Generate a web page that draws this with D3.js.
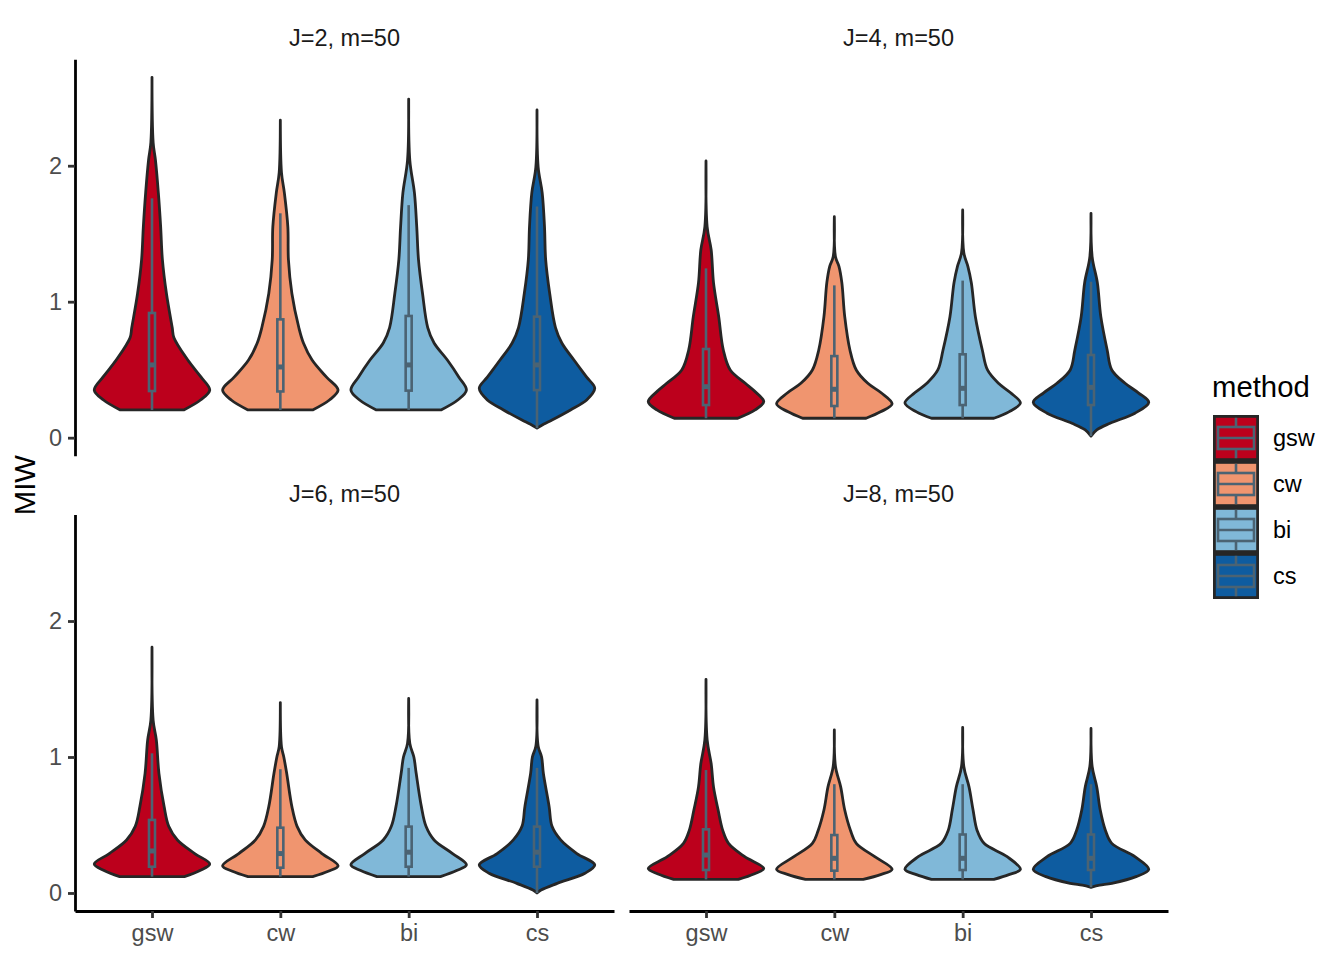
<!DOCTYPE html>
<html>
<head>
<meta charset="utf-8">
<script src="https://cdn.jsdelivr.net/npm/d3@7"></script>
<style>
  body { margin: 0; background: #fff; }
  text { font-family: "Liberation Sans", Arial, Helvetica, sans-serif; }
</style>
</head>
<body>
<script>

let methods = ["gsw", "cw", "bi", "cs"];
let methodColors = ["#BC001C", "#F0956F", "#80B8D8", "#0E5CA0"];
let panelLabels = ["J=2, m=50", "J=4, m=50", "J=6, m=50", "J=8, m=50"];
let yTicks = [0, 1, 2];

// violin outlines: [MIW value, relative half width]
let violinJ2 = [
  [[0.204,0.55],[0.277,0.84],[0.35,1.0],[0.445,0.85],[0.571,0.62],[0.735,0.38],[0.81,0.35],[1.06,0.25],[1.31,0.18],[1.55,0.15],[1.80,0.11],[2.04,0.06],[2.17,0.02],[2.65,0]],
  [[0.204,0.56],[0.277,0.85],[0.35,1.0],[0.445,0.80],[0.571,0.55],[0.696,0.40],[0.81,0.32],[1.06,0.20],[1.31,0.14],[1.55,0.13],[1.80,0.07],[1.95,0.02],[2.335,0]],
  [[0.204,0.56],[0.277,0.85],[0.35,1.0],[0.445,0.87],[0.571,0.67],[0.696,0.44],[0.81,0.33],[1.06,0.24],[1.31,0.17],[1.55,0.14],[1.80,0.10],[2.04,0.02],[2.49,0]],
  [[0.07,0],[0.10,0.12],[0.13,0.26],[0.204,0.58],[0.277,0.86],[0.363,1.0],[0.445,0.86],[0.571,0.64],[0.696,0.43],[0.81,0.32],[1.06,0.22],[1.31,0.15],[1.55,0.13],[1.80,0.09],[1.99,0.02],[2.41,0]]
];
let violinJ4 = [
  [[0.143,0.55],[0.204,0.85],[0.265,1.0],[0.35,0.82],[0.40,0.68],[0.498,0.42],[0.645,0.30],[0.89,0.22],[1.14,0.13],[1.38,0.09],[1.55,0.02],[2.035,0]],
  [[0.143,0.55],[0.19,0.80],[0.248,1.0],[0.33,0.81],[0.40,0.58],[0.498,0.38],[0.645,0.27],[0.89,0.18],[1.14,0.13],[1.26,0.08],[1.33,0.02],[1.625,0]],
  [[0.143,0.54],[0.19,0.80],[0.255,1.0],[0.33,0.83],[0.40,0.62],[0.498,0.43],[0.645,0.34],[0.89,0.22],[1.14,0.15],[1.26,0.09],[1.36,0.02],[1.675,0]],
  [[0.012,0],[0.057,0.10],[0.106,0.33],[0.18,0.76],[0.26,1.0],[0.33,0.82],[0.40,0.59],[0.498,0.36],[0.645,0.28],[0.89,0.17],[1.14,0.11],[1.33,0.02],[1.65,0]]
];
let violinJ6 = [
  [[0.12,0.56],[0.165,0.83],[0.213,1.0],[0.29,0.74],[0.39,0.44],[0.49,0.29],[0.635,0.21],[0.88,0.12],[1.125,0.075],[1.27,0.02],[1.807,0]],
  [[0.12,0.56],[0.16,0.83],[0.20,1.0],[0.29,0.72],[0.39,0.43],[0.49,0.29],[0.635,0.20],[0.88,0.11],[1.0,0.06],[1.076,0.02],[1.40,0]],
  [[0.12,0.55],[0.165,0.83],[0.207,1.0],[0.29,0.76],[0.39,0.44],[0.49,0.30],[0.635,0.22],[0.88,0.13],[1.0,0.09],[1.10,0.02],[1.43,0]],
  [[0.0,0],[0.022,0.07],[0.071,0.35],[0.145,0.83],[0.207,1.0],[0.29,0.69],[0.39,0.41],[0.49,0.26],[0.635,0.21],[0.88,0.11],[1.0,0.08],[1.08,0.02],[1.42,0]]
];
let violinJ8 = [
  [[0.10,0.56],[0.14,0.83],[0.18,1.0],[0.267,0.67],[0.365,0.39],[0.46,0.29],[0.61,0.21],[0.78,0.13],[0.95,0.09],[1.125,0.02],[1.571,0]],
  [[0.10,0.50],[0.135,0.80],[0.174,1.0],[0.267,0.70],[0.365,0.38],[0.46,0.28],[0.61,0.18],[0.78,0.11],[0.93,0.02],[1.20,0]],
  [[0.10,0.54],[0.135,0.80],[0.174,1.0],[0.267,0.77],[0.365,0.37],[0.46,0.25],[0.61,0.18],[0.78,0.11],[0.93,0.02],[1.218,0]],
  [[0.042,0],[0.057,0.15],[0.071,0.36],[0.12,0.78],[0.174,1.0],[0.267,0.76],[0.365,0.36],[0.46,0.25],[0.61,0.16],[0.78,0.10],[0.93,0.02],[1.21,0]]
];

// boxplot stats: [whisker low, q1, median, q3, whisker high]
let boxJ2 = [[0.204,0.343,0.535,0.917,1.76],[0.204,0.34,0.52,0.87,1.65],[0.204,0.346,0.535,0.895,1.71],[0.07,0.35,0.535,0.89,1.70]];
let boxJ4 = [[0.143,0.24,0.375,0.652,1.245],[0.143,0.233,0.356,0.60,1.12],[0.143,0.24,0.363,0.613,1.155],[0.012,0.24,0.37,0.608,1.147]];
let boxJ6 = [[0.12,0.193,0.309,0.537,1.027],[0.12,0.186,0.29,0.48,0.91],[0.12,0.193,0.30,0.488,0.92],[0.0,0.193,0.30,0.488,0.92]];
let boxJ8 = [[0.10,0.169,0.279,0.468,0.904],[0.10,0.164,0.255,0.426,0.80],[0.10,0.169,0.255,0.43,0.80],[0.042,0.169,0.255,0.43,0.80]];


let canvasW = 1344;
let canvasH = 960;

let outline = "#262626";
let boxCol = "#4B6373";
let lw = 2.8;

let colX = [[75, 614], [629, 1168]];
let rowY = [[455.7, 59.3], [911, 514.6]];

let panels = [
  { label: panelLabels[0], row: 0, col: 0, violins: violinJ2, boxes: boxJ2 },
  { label: panelLabels[1], row: 0, col: 1, violins: violinJ4, boxes: boxJ4 },
  { label: panelLabels[2], row: 1, col: 0, violins: violinJ6, boxes: boxJ6 },
  { label: panelLabels[3], row: 1, col: 1, violins: violinJ8, boxes: boxJ8 }
];

// shared y domain, 5% padding like ggplot
let allVals = [];
panels.forEach(p => p.violins.forEach(v => v.forEach(d => allVals.push(d[0]))));
let ext = d3.extent(allVals);
let pad = (ext[1] - ext[0]) * 0.05;
let yDomain = [ext[0] - pad, ext[1] + pad];

let svg = d3.select("body").append("svg")
  .attr("width", canvasW)
  .attr("height", canvasH);

panels.forEach(p => {

  let x = d3.scalePoint().domain(methods).range(colX[p.col]).padding(0.6);
  let y = d3.scaleLinear().domain(yDomain).range(rowY[p.row]);
  let w = d3.scaleLinear().domain([0, 1]).range([0, x.step() * 0.45]).clamp(true);

  let g = svg.append("g");

  // strip label
  g.append("text")
    .attr("x", (colX[p.col][0] + colX[p.col][1]) / 2)
    .attr("y", rowY[p.row][1] - 13)
    .attr("text-anchor", "middle")
    .attr("font-size", "23.5px")
    .attr("fill", "#1A1A1A")
    .text(p.label);

  methods.forEach((m, i) => {
    let cx = x(m);

    let area = d3.area()
      .curve(d3.curveCatmullRom.alpha(0.5))
      .y(d => y(d[0]))
      .x0(d => cx - w(d[1]))
      .x1(d => cx + w(d[1]));

    g.append("path")
      .datum(p.violins[i])
      .attr("d", area)
      .attr("fill", methodColors[i])
      .attr("stroke", outline)
      .attr("stroke-width", lw)
      .attr("stroke-linejoin", "round");

    let b = p.boxes[i];
    let bw = 3;
    let bg = g.append("g")
      .attr("stroke", boxCol)
      .attr("fill", "none");

    bg.append("line")
      .attr("x1", cx).attr("x2", cx)
      .attr("y1", y(b[0])).attr("y2", y(b[1]))
      .attr("stroke-width", 2.6);
    bg.append("line")
      .attr("x1", cx).attr("x2", cx)
      .attr("y1", y(b[3])).attr("y2", y(b[4]))
      .attr("stroke-width", 2.6);
    bg.append("rect")
      .attr("x", cx - bw).attr("width", bw * 2)
      .attr("y", y(b[3])).attr("height", y(b[1]) - y(b[3]))
      .attr("stroke-width", 2.6);
    bg.append("line")
      .attr("x1", cx - bw).attr("x2", cx + bw)
      .attr("y1", y(b[2])).attr("y2", y(b[2]))
      .attr("stroke-width", 5);
  });

  // y axis only on the left column
  if (p.col == 0) {
    let ax = g.append("g")
      .attr("transform", "translate(" + colX[0][0] + ",0)")
      .call(d3.axisLeft(y).tickValues(yTicks).tickSize(7).tickSizeOuter(0).tickPadding(6).tickFormat(d3.format("d")));
    styleAxis(ax);
  }

  // x axis only on the bottom row
  if (p.row == 1) {
    let ax = g.append("g")
      .attr("transform", "translate(0," + rowY[1][0] + ")")
      .call(d3.axisBottom(x).tickSize(7).tickSizeOuter(0).tickPadding(6));
    styleAxis(ax);
  }
});

function styleAxis(ax) {
  ax.select(".domain").attr("stroke", "#000").attr("stroke-width", lw);
  ax.selectAll(".tick line").attr("stroke", "#333").attr("stroke-width", lw);
  ax.selectAll(".tick text")
    .attr("fill", "#4D4D4D")
    .attr("font-size", "23.5px")
    .attr("font-family", "Liberation Sans, Arial, Helvetica, sans-serif");
}

// y axis title
svg.append("text")
  .attr("transform", "translate(35," + ((rowY[0][1] + rowY[1][0]) / 2) + ") rotate(-90)")
  .attr("text-anchor", "middle")
  .attr("font-size", "29.3px")
  .attr("fill", "#000")
  .text("MIW");

// legend
let legX = 1213;
let legY = 415;
let keyS = 46;

let leg = svg.append("g");

leg.append("text")
  .attr("x", legX - 1)
  .attr("y", 397)
  .attr("font-size", "29.3px")
  .attr("fill", "#000")
  .text("method");

methods.forEach((m, i) => {
  let ky = legY + i * keyS;
  let kc = ky + keyS / 2;
  let k = leg.append("g");

  k.append("rect")
    .attr("x", legX + 1.4).attr("y", ky + 1.4)
    .attr("width", keyS - 2.8).attr("height", keyS - 2.8)
    .attr("fill", methodColors[i])
    .attr("stroke", outline)
    .attr("stroke-width", lw);

  k.append("line")
    .attr("x1", legX + keyS / 2).attr("x2", legX + keyS / 2)
    .attr("y1", ky + 2.8).attr("y2", ky + keyS - 2.8)
    .attr("stroke", boxCol).attr("stroke-width", 2.6);
  k.append("rect")
    .attr("x", legX + 5).attr("y", kc - 11)
    .attr("width", keyS - 10).attr("height", 22)
    .attr("fill", methodColors[i])
    .attr("stroke", boxCol).attr("stroke-width", 2.6);
  k.append("line")
    .attr("x1", legX + 5).attr("x2", legX + keyS - 5)
    .attr("y1", kc).attr("y2", kc)
    .attr("stroke", boxCol).attr("stroke-width", 2.6);

  k.append("text")
    .attr("x", 1273)
    .attr("y", kc)
    .attr("dy", "0.35em")
    .attr("font-size", "23.5px")
    .attr("fill", "#000")
    .text(m);
});

</script>
</body>
</html>
